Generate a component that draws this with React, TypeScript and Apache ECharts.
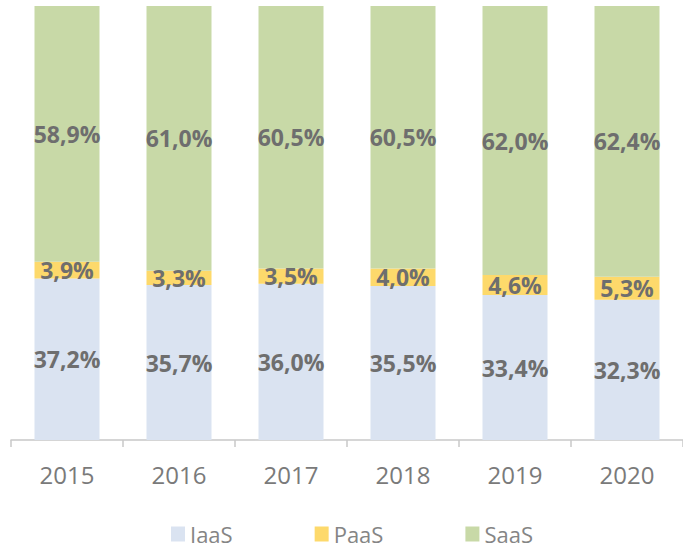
import React, { useEffect, useRef } from "react";
import * as echarts from "echarts";

const categories = ["2015", "2016", "2017", "2018", "2019", "2020"];
const iaas = [37.2, 35.7, 36.0, 35.5, 33.4, 32.3];
const paas = [3.9, 3.3, 3.5, 4.0, 4.6, 5.3];
const saas = [58.9, 61.0, 60.5, 60.5, 62.0, 62.4];

const FONT = "'Open Sans', sans-serif";

export default function App() {
  const ref = useRef<HTMLDivElement>(null);
  useEffect(() => {
    document.body.style.margin = "0";
    const chart = echarts.init(ref.current!, null, { renderer: "svg" });
    const label = {
      show: true,
      position: "inside" as const,
      fontFamily: FONT,
      fontWeight: "bold" as const,
      fontSize: 23,
      color: "#6e6e6e",
      formatter: (p: any) => p.value.toFixed(1).replace(".", ",") + "%",
    };
    chart.setOption({
      animation: false,
      textStyle: { fontFamily: FONT },
      legend: {
        bottom: 6,
        left: 166,
        itemWidth: 14,
        itemHeight: 15,
        itemGap: 82,
        icon: "rect",
        textStyle: { fontFamily: FONT, fontSize: 22, color: "#858585" },
        data: ["IaaS", "PaaS", "SaaS"],
      },
      grid: { left: 11, top: 6, width: 676, height: 434 },
      xAxis: {
        type: "category",
        data: categories,
        axisLine: { lineStyle: { color: "#c8c8c8", width: 1.5 } },
        axisTick: { show: true, length: 7, lineStyle: { color: "#c8c8c8", width: 1.5 } },
        axisLabel: { fontFamily: FONT, fontSize: 24, color: "#7a7a7a", margin: 22 },
      },
      yAxis: { type: "value", min: 0, max: 100, show: false, splitLine: { show: false } },
      series: [
        { name: "IaaS", type: "bar", stack: "t", data: iaas, barWidth: 65, itemStyle: { color: "#dae3f1" }, label },
        { name: "PaaS", type: "bar", stack: "t", data: paas, barWidth: 65, itemStyle: { color: "#fdd96b" }, label },
        { name: "SaaS", type: "bar", stack: "t", data: saas, barWidth: 65, itemStyle: { color: "#c8d9a7" }, label },
      ],
    });
    return () => chart.dispose();
  }, []);
  return <div ref={ref} style={{ width: 683, height: 556 }} />;
}
